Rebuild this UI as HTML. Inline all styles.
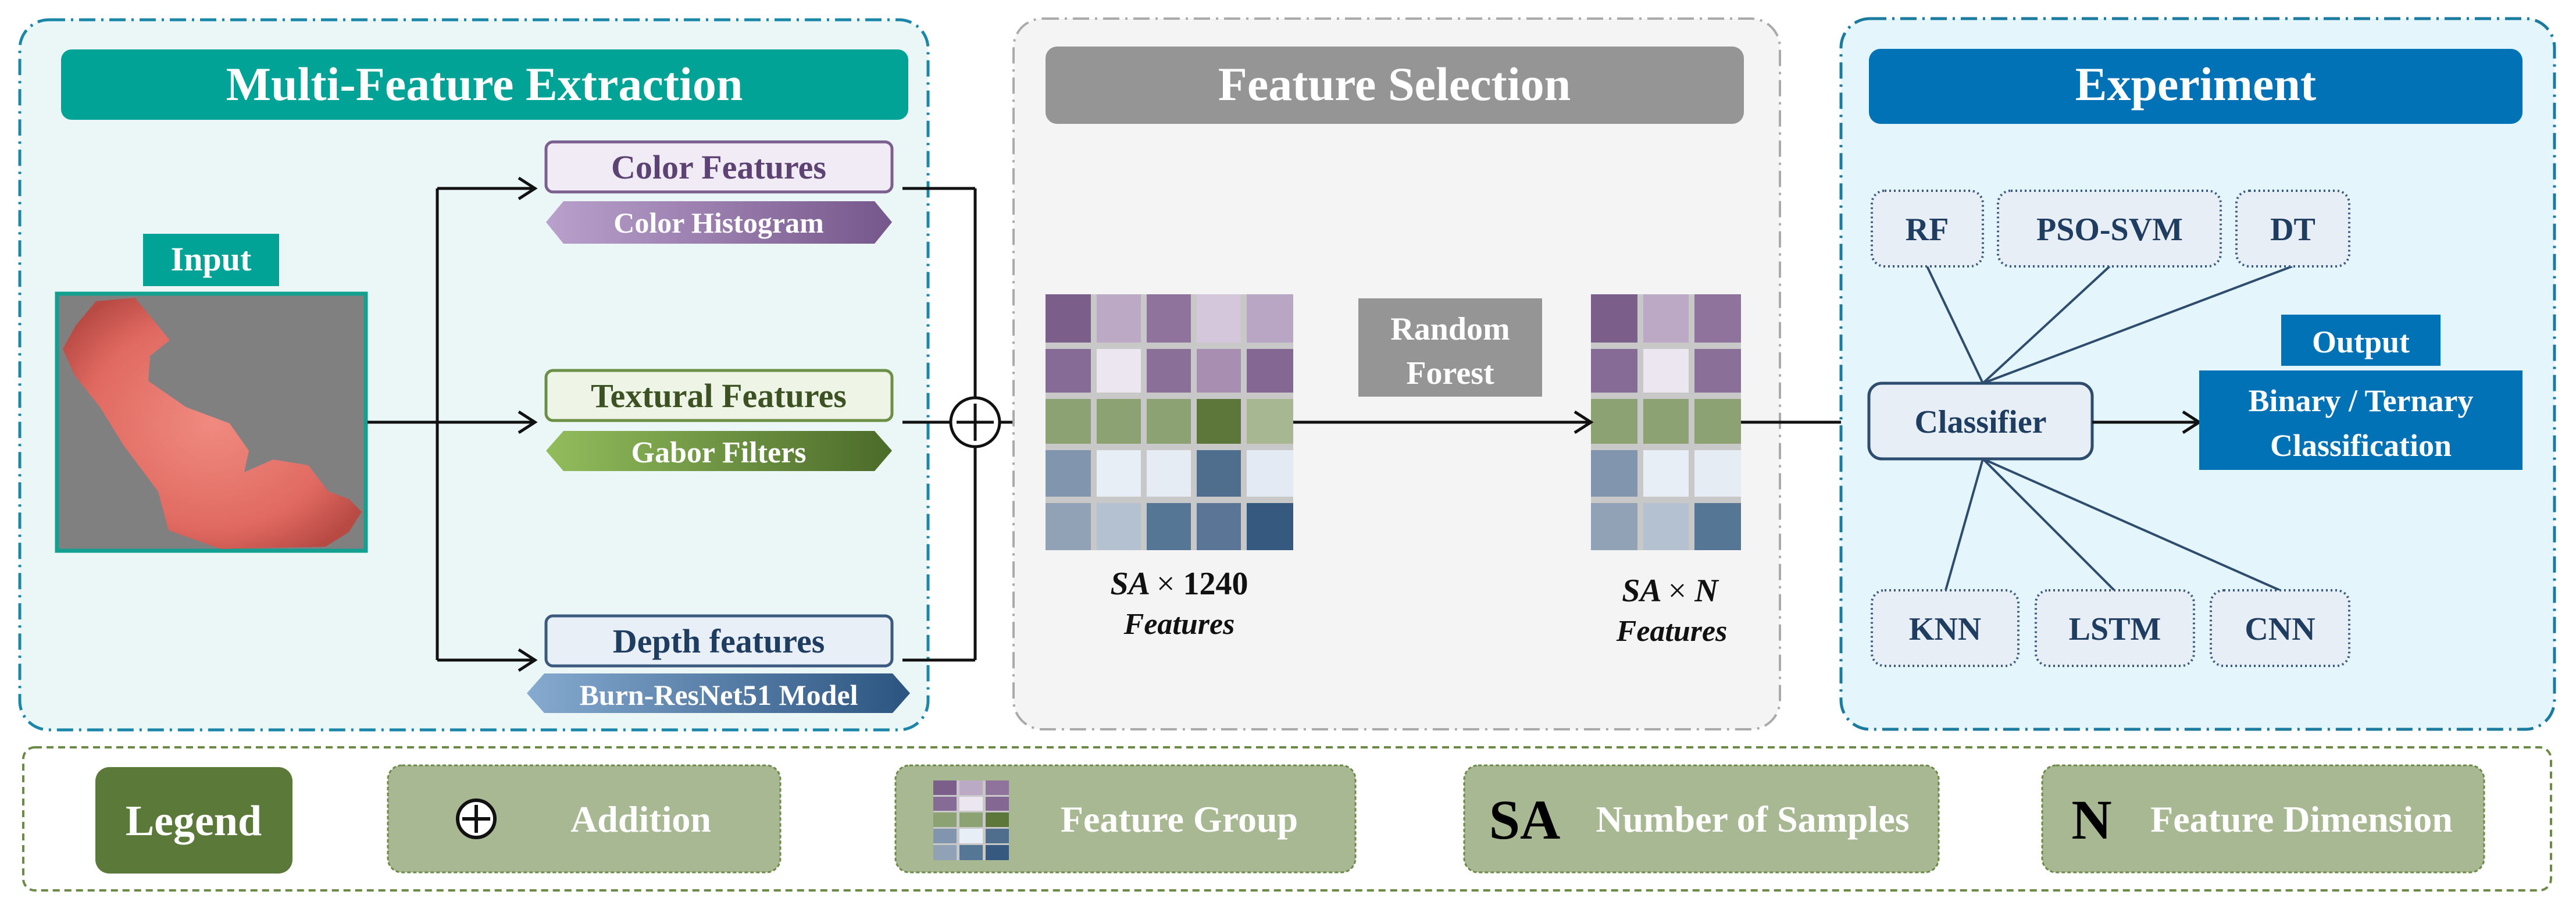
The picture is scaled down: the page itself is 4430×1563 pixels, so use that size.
<!DOCTYPE html>
<html><head><meta charset="utf-8"><style>
html,body{margin:0;padding:0;background:#fff;}
svg{display:block;}
text{font-family:"Liberation Serif",serif;font-weight:bold;}
</style></head><body>
<svg width="4430" height="1563" viewBox="0 0 4430 1563" xmlns="http://www.w3.org/2000/svg">
<defs>
<linearGradient id="gp" x1="0" x2="1"><stop offset="0" stop-color="#b9a1cc"/><stop offset="1" stop-color="#76578c"/></linearGradient>
<linearGradient id="gg" x1="0" x2="1"><stop offset="0" stop-color="#92bd5c"/><stop offset="1" stop-color="#4b6b2a"/></linearGradient>
<linearGradient id="gb" x1="0" x2="1"><stop offset="0" stop-color="#86aad0"/><stop offset="1" stop-color="#2b5480"/></linearGradient>
<radialGradient id="gr" cx="0.5" cy="0.5" r="0.6"><stop offset="0" stop-color="#f08a80"/><stop offset="0.7" stop-color="#e06a62"/><stop offset="1" stop-color="#b84a44"/></radialGradient>
</defs>

<!-- Panel 1 -->
<rect x="34" y="34" width="1562" height="1221" rx="50" fill="#ebf7f7" stroke="#1a86a8" stroke-width="5" stroke-dasharray="28,10,4,10"/>
<rect x="105" y="85" width="1457" height="121" rx="18" fill="#00a396"/>
<text x="833" y="172" font-size="82" fill="#fff" text-anchor="middle">Multi-Feature Extraction</text>

<rect x="246" y="402" width="234" height="90" fill="#00a396"/>
<text x="363" y="465" font-size="58" fill="#fff" text-anchor="middle">Input</text>
<rect x="98" y="505" width="531" height="442" fill="#808080" stroke="#13a090" stroke-width="7"/>
<path d="M165,518 L232,512 L262,548 L292,585 L258,612 L255,655 L320,700 L395,728 L428,775 L420,812 L470,790 L530,800 L565,845 L600,858 L622,880 L600,915 L560,940 L380,944 L290,912 L272,845 L212,765 L172,700 L128,645 L108,600 L130,560 Z" fill="url(#gr)"/>

<!-- left connectors -->
<g stroke="#111" stroke-width="5" fill="none">
<line x1="632" y1="726" x2="918" y2="726"/>
<line x1="752" y1="324" x2="752" y2="1135"/>
<line x1="752" y1="324" x2="918" y2="324"/>
<line x1="752" y1="1135" x2="918" y2="1135"/>
<polyline points="892,306 920,324 892,342"/>
<polyline points="892,708 920,726 892,744"/>
<polyline points="892,1117 920,1135 892,1153"/>
<line x1="1552" y1="324" x2="1677" y2="324"/>
<line x1="1552" y1="726" x2="1633" y2="726"/>
<line x1="1552" y1="1135" x2="1677" y2="1135"/>
<line x1="1677" y1="324" x2="1677" y2="684"/>
<line x1="1677" y1="768" x2="1677" y2="1135"/>
<circle cx="1677" cy="726" r="42" fill="#fff"/>
<line x1="1677" y1="694" x2="1677" y2="758"/>
<line x1="1645" y1="726" x2="1709" y2="726"/>
<line x1="1719" y1="726" x2="1794" y2="726"/>
<polyline points="1768,708 1796,726 1768,744"/>
</g>

<!-- feature boxes -->
<rect x="939" y="244" width="595" height="86" rx="12" fill="#f1ebf5" stroke="#7a5f8f" stroke-width="5"/>
<text x="1236" y="307" font-size="58" fill="#5d4373" text-anchor="middle">Color Features</text>
<polygon points="969,346 1504,346 1534,382 1504,419 969,419 939,382" fill="url(#gp)"/>
<text x="1236" y="400" font-size="50" fill="#fff" text-anchor="middle">Color Histogram</text>

<rect x="939" y="637" width="595" height="86" rx="12" fill="#eef4e6" stroke="#6b8f45" stroke-width="5"/>
<text x="1236" y="700" font-size="58" fill="#3d5222" text-anchor="middle">Textural Features</text>
<polygon points="969,741 1504,741 1534,775 1504,810 969,810 939,775" fill="url(#gg)"/>
<text x="1236" y="795" font-size="52" fill="#fff" text-anchor="middle">Gabor Filters</text>

<rect x="939" y="1059" width="595" height="86" rx="12" fill="#e9eff7" stroke="#3c5a7f" stroke-width="5"/>
<text x="1236" y="1122" font-size="58" fill="#1f3d60" text-anchor="middle">Depth features</text>
<polygon points="936,1158 1535,1158 1565,1192 1535,1226 936,1226 906,1192" fill="url(#gb)"/>
<text x="1236" y="1212" font-size="50" fill="#fff" text-anchor="middle">Burn-ResNet51 Model</text>

<!-- Panel 2 -->
<rect x="1743" y="32" width="1318" height="1222" rx="50" fill="#f4f4f4" stroke="#aaa" stroke-width="4" stroke-dasharray="28,10,4,10"/>
<rect x="1798" y="80" width="1201" height="133" rx="20" fill="#959595"/>
<text x="2398" y="172" font-size="82" fill="#fff" text-anchor="middle">Feature Selection</text>

<rect x="1798" y="506" width="426" height="440" fill="#c8c8c8"/>
<g>
<rect x="1798" y="506" width="78" height="83" fill="#7b5f8a"/><rect x="1886" y="506" width="76" height="83" fill="#bca9c6"/><rect x="1972" y="506" width="76" height="83" fill="#8f739c"/><rect x="2058" y="506" width="76" height="83" fill="#d4c7dc"/><rect x="2144" y="506" width="80" height="83" fill="#b9a6c5"/>
<rect x="1798" y="600" width="78" height="75" fill="#866b96"/><rect x="1886" y="600" width="76" height="75" fill="#ece6f0"/><rect x="1972" y="600" width="76" height="75" fill="#8a6f98"/><rect x="2058" y="600" width="76" height="75" fill="#a88fb2"/><rect x="2144" y="600" width="80" height="75" fill="#846792"/>
<rect x="1798" y="686" width="78" height="77" fill="#8da272"/><rect x="1886" y="686" width="76" height="77" fill="#8da272"/><rect x="1972" y="686" width="76" height="77" fill="#8da272"/><rect x="2058" y="686" width="76" height="77" fill="#5d773a"/><rect x="2144" y="686" width="80" height="77" fill="#a7b791"/>
<rect x="1798" y="774" width="78" height="80" fill="#8196ae"/><rect x="1886" y="774" width="76" height="80" fill="#e8eef6"/><rect x="1972" y="774" width="76" height="80" fill="#e5ecf4"/><rect x="2058" y="774" width="76" height="80" fill="#4f6e8e"/><rect x="2144" y="774" width="80" height="80" fill="#e3eaf3"/>
<rect x="1798" y="865" width="78" height="81" fill="#91a2b7"/><rect x="1886" y="865" width="76" height="81" fill="#b3c1d1"/><rect x="1972" y="865" width="76" height="81" fill="#567695"/><rect x="2058" y="865" width="76" height="81" fill="#5a7595"/><rect x="2144" y="865" width="80" height="81" fill="#365a7f"/>
</g>
<rect x="2736" y="506" width="258" height="440" fill="#c8c8c8"/>
<g>
<rect x="2736" y="506" width="80" height="83" fill="#7b5f8a"/><rect x="2826" y="506" width="78" height="83" fill="#bca9c6"/><rect x="2914" y="506" width="80" height="83" fill="#8f739c"/>
<rect x="2736" y="600" width="80" height="75" fill="#866b96"/><rect x="2826" y="600" width="78" height="75" fill="#ece6f0"/><rect x="2914" y="600" width="80" height="75" fill="#8a6f98"/>
<rect x="2736" y="686" width="80" height="77" fill="#8da272"/><rect x="2826" y="686" width="78" height="77" fill="#8da272"/><rect x="2914" y="686" width="80" height="77" fill="#8da272"/>
<rect x="2736" y="774" width="80" height="80" fill="#8196ae"/><rect x="2826" y="774" width="78" height="80" fill="#e8eef6"/><rect x="2914" y="774" width="80" height="80" fill="#e5ecf4"/>
<rect x="2736" y="865" width="80" height="81" fill="#91a2b7"/><rect x="2826" y="865" width="78" height="81" fill="#b3c1d1"/><rect x="2914" y="865" width="80" height="81" fill="#567695"/>
</g>
<rect x="2336" y="513" width="316" height="169" fill="#959595"/>
<text x="2494" y="584" font-size="56" fill="#fff" text-anchor="middle">Random</text>
<text x="2494" y="660" font-size="56" fill="#fff" text-anchor="middle">Forest</text>

<g stroke="#111" stroke-width="5" fill="none">
<line x1="2224" y1="726" x2="2734" y2="726"/>
<polyline points="2708,708 2736,726 2708,744"/>
<line x1="2994" y1="726" x2="3212" y2="726"/>
<polyline points="3186,708 3214,726 3186,744"/>
</g>
<text x="2028" y="1022" font-size="56" fill="#111" text-anchor="middle" font-style="italic">SA <tspan font-style="normal" font-weight="normal">×</tspan> <tspan font-style="normal">1240</tspan></text>
<text x="2028" y="1090" font-size="52" fill="#111" text-anchor="middle" font-style="italic">Features</text>
<text x="2872" y="1034" font-size="56" fill="#111" text-anchor="middle" font-style="italic">SA <tspan font-style="normal" font-weight="normal">×</tspan> N</text>
<text x="2875" y="1102" font-size="52" fill="#111" text-anchor="middle" font-style="italic">Features</text>

<!-- Panel 3 -->
<rect x="3166" y="32" width="1227" height="1222" rx="50" fill="#e5f5fc" stroke="#1a7aa0" stroke-width="5" stroke-dasharray="28,10,4,10"/>
<rect x="3214" y="84" width="1124" height="129" rx="20" fill="#0072b5"/>
<text x="3776" y="172" font-size="82" fill="#fff" text-anchor="middle">Experiment</text>

<g stroke="#2e4d6e" stroke-width="4" fill="none">
<line x1="3410" y1="659" x2="3314" y2="458"/>
<line x1="3410" y1="659" x2="3628" y2="458"/>
<line x1="3410" y1="659" x2="3942" y2="458"/>
<line x1="3410" y1="789" x2="3346" y2="1015"/>
<line x1="3410" y1="789" x2="3636" y2="1015"/>
<line x1="3410" y1="789" x2="3921" y2="1015"/>
</g>
<g fill="#e8eef6" stroke="#3c5a7f" stroke-width="4" stroke-dasharray="3,5">
<rect x="3219" y="328" width="191" height="130" rx="22"/>
<rect x="3436" y="328" width="383" height="130" rx="22"/>
<rect x="3846" y="328" width="194" height="130" rx="22"/>
<rect x="3219" y="1015" width="252" height="130" rx="22"/>
<rect x="3501" y="1015" width="272" height="130" rx="22"/>
<rect x="3802" y="1015" width="238" height="130" rx="22"/>
</g>
<g font-size="56" fill="#1f3d60" text-anchor="middle">
<text x="3314" y="413">RF</text>
<text x="3628" y="413">PSO-SVM</text>
<text x="3943" y="413">DT</text>
<text x="3345" y="1100">KNN</text>
<text x="3637" y="1100">LSTM</text>
<text x="3921" y="1100">CNN</text>
</g>
<rect x="3214" y="659" width="384" height="130" rx="22" fill="#e8eef6" stroke="#2e4d6e" stroke-width="5"/>
<text x="3406" y="744" font-size="56" fill="#1f3d60" text-anchor="middle">Classifier</text>
<g stroke="#111" stroke-width="5" fill="none">
<line x1="3598" y1="726" x2="3780" y2="726"/>
<polyline points="3754,708 3782,726 3754,744"/>
</g>
<rect x="3923" y="541" width="274" height="88" fill="#0072b5"/>
<text x="4060" y="606" font-size="54" fill="#fff" text-anchor="middle">Output</text>
<rect x="3782" y="637" width="556" height="171" fill="#0072b5"/>
<text x="4060" y="707" font-size="54" fill="#fff" text-anchor="middle">Binary / Ternary</text>
<text x="4060" y="784" font-size="54" fill="#fff" text-anchor="middle">Classification</text>

<!-- Legend -->
<rect x="40" y="1285" width="4347" height="246" rx="20" fill="#fff" stroke="#6b8a45" stroke-width="4" stroke-dasharray="12,8"/>
<rect x="164" y="1319" width="339" height="183" rx="24" fill="#5b7a3a"/>
<text x="333" y="1436" font-size="74" fill="#fff" text-anchor="middle">Legend</text>
<g fill="#a8b892" stroke="#6b8a45" stroke-width="3" stroke-dasharray="6,4">
<rect x="667" y="1316" width="675" height="184" rx="24"/>
<rect x="1540" y="1316" width="791" height="184" rx="24"/>
<rect x="2518" y="1316" width="816" height="184" rx="24"/>
<rect x="3512" y="1316" width="760" height="184" rx="24"/>
</g>
<circle cx="819" cy="1408" r="32" fill="#fff" stroke="#111" stroke-width="6"/>
<line x1="819" y1="1384" x2="819" y2="1432" stroke="#111" stroke-width="6"/>
<line x1="795" y1="1408" x2="843" y2="1408" stroke="#111" stroke-width="6"/>
<text x="1102" y="1430" font-size="64" fill="#fff" text-anchor="middle">Addition</text>
<g>
<rect x="1605" y="1342" width="130" height="137" fill="#c8c8c8"/>
<rect x="1605" y="1342" width="40" height="25" fill="#7b5f8a"/><rect x="1650" y="1342" width="40" height="25" fill="#bca9c6"/><rect x="1695" y="1342" width="40" height="25" fill="#8f739c"/>
<rect x="1605" y="1370" width="40" height="24" fill="#866b96"/><rect x="1650" y="1370" width="40" height="24" fill="#ece6f0"/><rect x="1695" y="1370" width="40" height="24" fill="#846792"/>
<rect x="1605" y="1397" width="40" height="25" fill="#8da272"/><rect x="1650" y="1397" width="40" height="25" fill="#8da272"/><rect x="1695" y="1397" width="40" height="25" fill="#5d773a"/>
<rect x="1605" y="1425" width="40" height="25" fill="#8196ae"/><rect x="1650" y="1425" width="40" height="25" fill="#e8eef6"/><rect x="1695" y="1425" width="40" height="25" fill="#4f6e8e"/>
<rect x="1605" y="1453" width="40" height="26" fill="#91a2b7"/><rect x="1650" y="1453" width="40" height="26" fill="#567695"/><rect x="1695" y="1453" width="40" height="26" fill="#365a7f"/>
</g>
<text x="2028" y="1430" font-size="64" fill="#fff" text-anchor="middle">Feature Group</text>
<text x="2622" y="1442" font-size="96" fill="#000" text-anchor="middle">SA</text>
<text x="3014" y="1430" font-size="64" fill="#fff" text-anchor="middle">Number of Samples</text>
<text x="3597" y="1442" font-size="96" fill="#000" text-anchor="middle">N</text>
<text x="3958" y="1430" font-size="64" fill="#fff" text-anchor="middle">Feature Dimension</text>
</svg>
</body></html>
